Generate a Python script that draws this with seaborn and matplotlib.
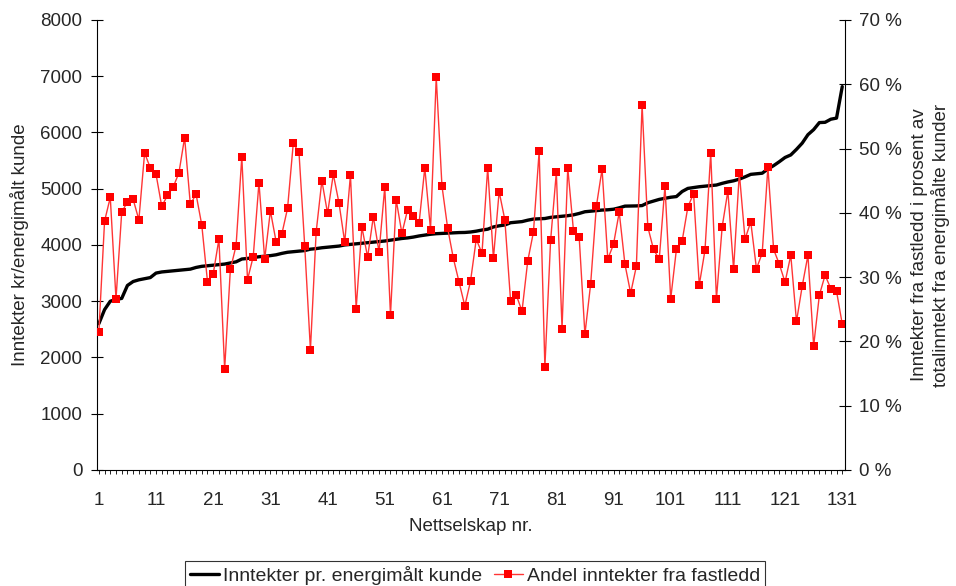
import numpy as np
import pandas as pd
import matplotlib
matplotlib.use('Agg')
import matplotlib.pyplot as plt
from matplotlib.ticker import FuncFormatter
import seaborn as sns

# inntekter pr. energimålt kunde (kr), sortert stigende
inntekt = [2600, 2850, 3000, 3030, 3050, 3280, 3350, 3380, 3400, 3420,
           3500, 3520, 3530, 3540, 3550, 3560, 3570, 3600, 3620, 3630,
           3640, 3650, 3660, 3680, 3700, 3750, 3760, 3775, 3790, 3800,
           3810, 3825, 3850, 3870, 3880, 3890, 3900, 3925, 3935, 3950,
           3960, 3970, 3980, 4000, 4010, 4020, 4030, 4040, 4050, 4060,
           4070, 4085, 4100, 4115, 4125, 4140, 4160, 4175, 4190, 4200,
           4205, 4210, 4215, 4220, 4222, 4230, 4245, 4265, 4280, 4320,
           4340, 4355, 4395, 4405, 4415, 4440, 4460, 4465, 4470, 4490,
           4500, 4510, 4520, 4535, 4560, 4590, 4600, 4610, 4620, 4625,
           4635, 4660, 4690, 4692, 4694, 4700, 4750, 4780, 4810, 4830,
           4848, 4860, 4950, 5005, 5020, 5035, 5045, 5055, 5065, 5095,
           5120, 5140, 5170, 5210, 5255, 5265, 5275, 5350, 5410, 5480,
           5555, 5600, 5700, 5810, 5960, 6050, 6175, 6180, 6235, 6255,
           6815]

# andel inntekter fra fastledd (%)
andel = [21.4, 38.7, 42.4, 26.6, 40.1, 41.7, 42.1, 38.9, 49.3, 47.0,
         46.0, 41.0, 42.7, 44.0, 46.2, 51.7, 41.3, 42.9, 38.1, 29.3,
         30.5, 35.9, 15.7, 31.2, 34.9, 48.7, 29.6, 33.2, 44.7, 32.8,
         40.3, 35.5, 36.7, 40.7, 50.8, 49.4, 34.9, 18.7, 37.0, 45.0,
         39.9, 46.0, 41.5, 35.4, 45.9, 25.1, 37.8, 33.1, 39.4, 33.9,
         44.0, 24.1, 42.0, 36.8, 40.5, 39.5, 38.4, 47.0, 37.4, 61.1,
         44.2, 37.6, 32.9, 29.2, 25.5, 29.4, 35.9, 33.7, 47.0, 32.9,
         43.3, 38.9, 26.3, 27.2, 24.7, 32.5, 37.0, 49.6, 16.0, 35.7,
         46.3, 22.0, 47.0, 37.2, 36.2, 21.1, 28.9, 41.0, 46.8, 32.8,
         35.1, 40.1, 32.0, 27.5, 31.7, 56.8, 37.8, 34.3, 32.8, 44.2,
         26.6, 34.3, 35.6, 40.9, 43.0, 28.8, 34.2, 49.3, 26.6, 37.8,
         43.4, 31.2, 46.2, 35.9, 38.6, 31.3, 33.7, 47.1, 34.3, 32.0,
         29.2, 33.4, 23.1, 28.6, 33.4, 19.3, 27.2, 30.3, 28.2, 27.8,
         22.7]

nr = list(range(1, len(inntekt) + 1))
x_labels = [str(n) if (n - 1) % 10 == 0 else '' for n in nr]

df = pd.DataFrame({'nr': nr, 'inntekt': inntekt, 'andel': andel})

sns.set_style('white')
plt.rcParams['font.family'] = ['Liberation Sans', 'DejaVu Sans']
plt.rcParams['font.size'] = 13.5

fig = plt.figure(figsize=(9.56, 5.86), dpi=100)
ax = fig.add_axes([0.101, 0.198, 0.783, 0.768])
ax2 = ax.twinx()

sns.lineplot(data=df, x='nr', y='inntekt', ax=ax, color='black',
             linewidth=2.4, label='Inntekter pr. energimålt kunde', legend=False)
sns.lineplot(data=df, x='nr', y='andel', ax=ax2, color='#ff3535',
             linewidth=1.0, marker='s', markersize=5.5, markerfacecolor='red',
             markeredgecolor='red', markeredgewidth=0,
             label='Andel inntekter fra fastledd', legend=False)

ax.set_xlim(0.6, 131.5)
ax.set_ylim(0, 8000)
ax2.set_ylim(0, 70)
ax.set_yticks(range(0, 8001, 1000))
ax2.set_yticks(range(0, 71, 10))
ax2.yaxis.set_major_formatter(FuncFormatter(lambda v, p: f'{v:.0f} %'))
ax.set_xticks(nr)
ax.set_xticklabels(x_labels)

for a in (ax, ax2):
    a.spines['top'].set_visible(False)
    for s in a.spines.values():
        s.set_color('black')
        s.set_linewidth(0.8)
ax.spines['right'].set_visible(False)
ax2.spines['left'].set_visible(False)
ax2.spines['bottom'].set_visible(False)

ax.tick_params(axis='y', direction='inout', length=8.6, width=0.8,
               color='black', pad=6, left=True)
ax2.tick_params(axis='y', direction='inout', length=8.6, width=0.8,
                color='black', pad=6, right=True)
ax.tick_params(axis='x', direction='out', length=3, width=0.6,
               color='black', pad=13, bottom=True)

ax.set_xlabel('Nettselskap nr.', labelpad=6)
ax.set_ylabel('Inntekter kr/energimålt kunde', labelpad=8)
ax2.set_ylabel('Inntekter fra fastledd i prosent av\ntotalinntekt fra energimålte kunder',
               labelpad=6)

h1, l1 = ax.get_legend_handles_labels()
h2, l2 = ax2.get_legend_handles_labels()
leg = fig.legend(h1 + h2, l1 + l2, loc='upper center',
                 bbox_to_anchor=(0.497, 0.043), ncol=2, frameon=True,
                 fancybox=False, edgecolor='black', fontsize=14,
                 handlelength=1.5, handletextpad=0.2, columnspacing=0.6,
                 borderpad=0.25, borderaxespad=0)
leg.get_frame().set_linewidth(0.8)

fig.savefig('out.png', dpi=100)
